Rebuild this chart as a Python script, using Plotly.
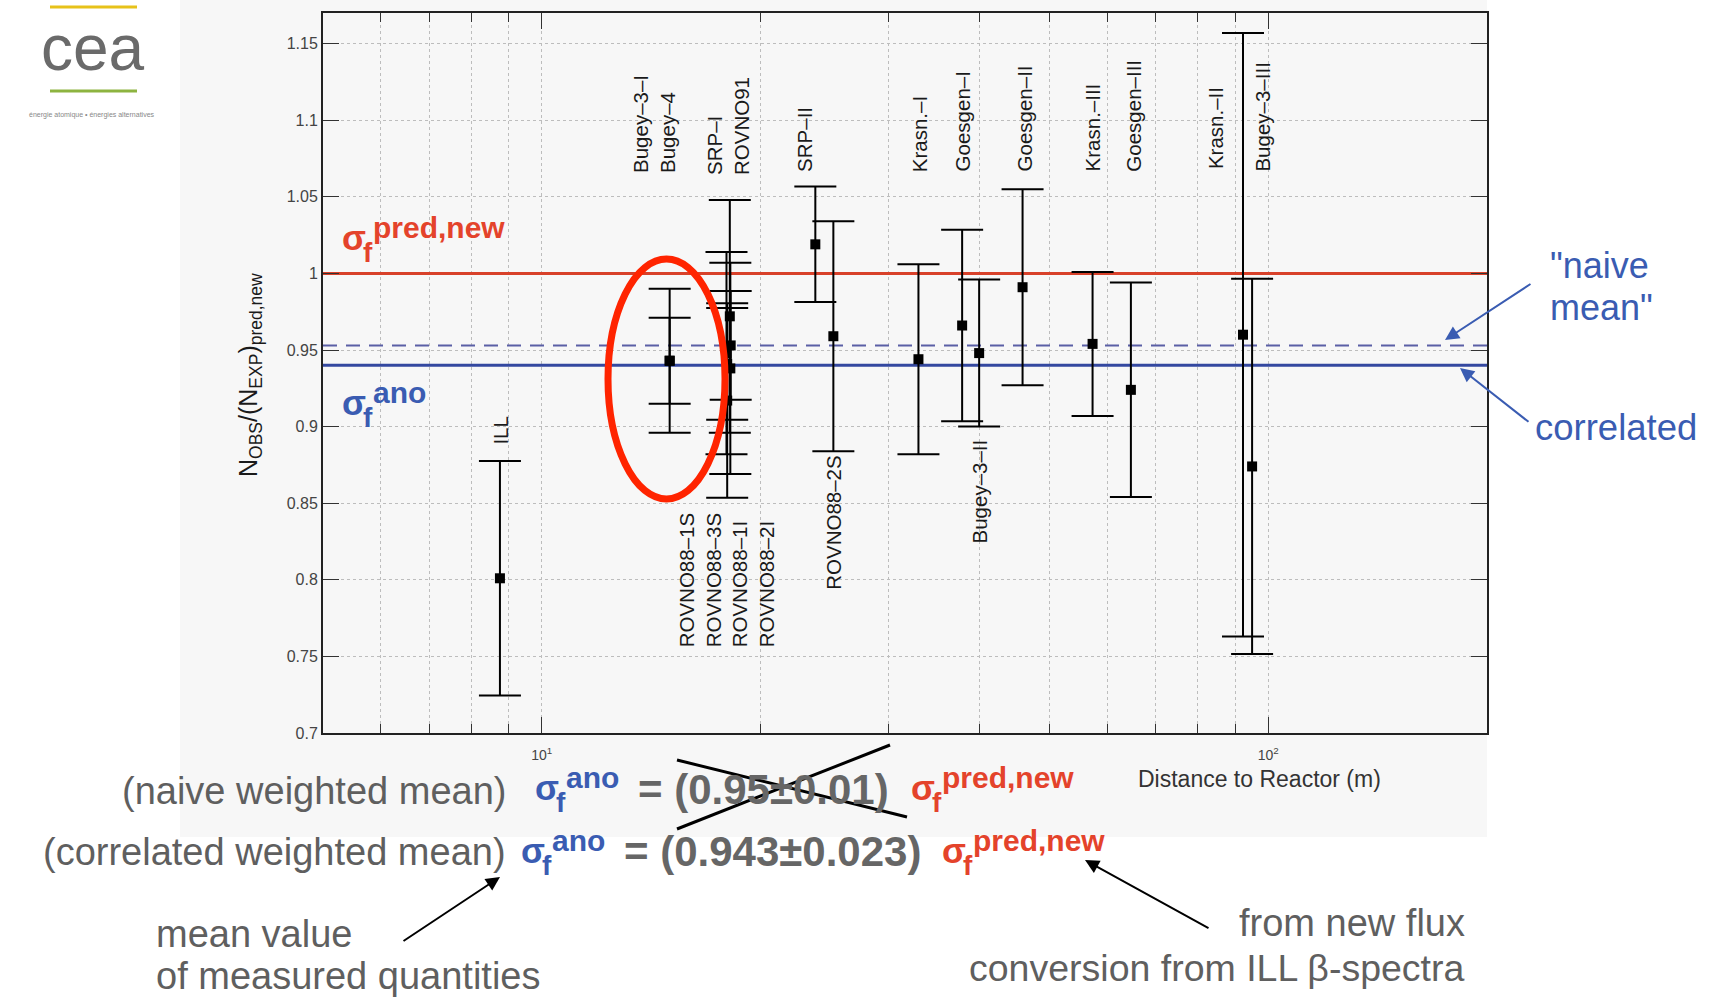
import math
import plotly.graph_objects as go

# ---------------- data ----------------
experiments = ["ILL", "Bugey-4", "ROVNO91", "Bugey-3-I", "Bugey-3-II", "Bugey-3-III",
               "Goesgen-I", "Goesgen-II", "Goesgen-III", "Krasn.-I", "Krasn.-II", "Krasn.-III",
               "SRP-I", "SRP-II", "ROVNO88-1I", "ROVNO88-2I", "ROVNO88-1S", "ROVNO88-2S", "ROVNO88-3S"]
distance_m = [8.76, 15.0, 18.0, 15.0, 40.0, 95.0,
              37.9, 45.9, 64.7, 33.0, 92.3, 57.3,
              18.2, 23.8, 18.0, 17.96, 18.15, 25.2, 18.18]
ratio = [0.801, 0.943, 0.941, 0.943, 0.948, 0.874,
         0.966, 0.991, 0.924, 0.944, 0.960, 0.954,
         0.953, 1.019, 0.917, 0.948, 0.972, 0.959, 0.938]
ratio_err = [0.0765, 0.028, 0.0365, 0.047, 0.048, 0.1225,
             0.0625, 0.064, 0.070, 0.062, 0.197, 0.047,
             0.0355, 0.0377, 0.0635, 0.066, 0.076, 0.075, 0.069]

mean_names = ["sigma pred,new", "naive mean", "correlated mean"]
mean_values = [1.0, 0.953, 0.940]

y_tick_values = [0.7, 0.75, 0.8, 0.85, 0.9, 0.95, 1.0, 1.05, 1.1, 1.15]
y_tick_labels = ["0.7", "0.75", "0.8", "0.85", "0.9", "0.95", "1", "1.05", "1.1", "1.15"]
x_tick_values = [10, 100]
x_tick_labels = ["10<sup>1</sup>", "10<sup>2</sup>"]
x_minor_values = [6, 7, 8, 9, 20, 30, 40, 50, 60, 70, 80, 90]

# experiment labels: text, distance (m) of label centre, ratio at label anchor, anchor side
label_texts = ["ILL", "Bugey–3–I<br>Bugey–4", "SRP–I<br>ROVNO91", "SRP–II", "Krasn.–I",
               "Goesgen–I", "Goesgen–II", "Krasn.–III", "Goesgen–III", "Krasn.–II", "Bugey–3–III",
               "ROVNO88–1S<br>ROVNO88–3S<br>ROVNO88–1I<br>ROVNO88–2I", "ROVNO88–2S", "Bugey–3–II"]
label_dist = [8.75, 14.3, 18.05, 23.0, 33.1, 37.95, 46.2, 57.3, 65.3, 84.8, 98.1, 17.97, 25.2, 40.0]
label_ratio = [0.887, 1.064, 1.063, 1.065, 1.065, 1.065, 1.065, 1.065, 1.065, 1.067, 1.065,
               0.8445, 0.8825, 0.893]
label_side = ["bottom"] * 11 + ["top"] * 3

# ---------------- layout geometry (pixels) ----------------
W, H = 1713, 999
L, R, T, B = 323, 1487, 13, 733
FONT = "Liberation Sans, Arial, Helvetica, sans-serif"
RED = "#e4432b"
BLUE = "#3a5cb2"
GRAY = "#5f5f5f"


def PX(x):
    return (x - L) / (R - L)


def PY(y):
    return (B - y) / (B - T)


annotations = []
shapes = []


def text(t, x, y, size, color, bold=False, xa="left", ya="middle", angle=0):
    annotations.append(dict(
        text=("<b>%s</b>" % t) if bold else t, x=PX(x), y=PY(y), xref="paper", yref="paper",
        showarrow=False, xanchor=xa, yanchor=ya, textangle=angle,
        font=dict(family=FONT, size=size, color=color)))


def sigma(x, baseline, sup, color, s=35):
    text("σ", x, baseline - 0.35 * s, s, color, bold=True)
    text("f", x + 21, baseline + 12 - 0.35 * 28, 28, color, bold=True)
    text(sup, x + 31, baseline - 12 - 0.35 * 30, 30, color, bold=True)


def arrow(x0, y0, x1, y1, color, width=2, head=2, hsize=1.4):
    annotations.append(dict(
        text="", x=PX(x1), y=PY(y1), xref="paper", yref="paper", showarrow=True,
        ax=x0 - x1, ay=y0 - y1, axref="pixel", ayref="pixel",
        arrowhead=head, arrowsize=hsize, arrowwidth=width, arrowcolor=color))


def line(x0, y0, x1, y1, color, width):
    shapes.append(dict(type="line", xref="paper", yref="paper", x0=PX(x0), y0=PY(y0),
                       x1=PX(x1), y1=PY(y1), line=dict(color=color, width=width), layer="above"))


fig = go.Figure()

# mean level lines
x_span = [5, 200]
fig.add_trace(go.Scatter(x=x_span, y=[mean_values[0]] * 2, mode="lines",
                         line=dict(color="#d8412a", width=3), hoverinfo="skip"))
fig.add_trace(go.Scatter(x=x_span, y=[mean_values[1]] * 2, mode="lines",
                         line=dict(color="#5a5fa5", width=2, dash="14px,9px"), hoverinfo="skip"))
fig.add_trace(go.Scatter(x=x_span, y=[mean_values[2]] * 2, mode="lines",
                         line=dict(color="#3448a0", width=3), hoverinfo="skip"))

# experiments
fig.add_trace(go.Scatter(
    x=distance_m, y=ratio, mode="markers", text=experiments,
    marker=dict(symbol="square", size=10, color="black"),
    error_y=dict(type="data", array=ratio_err, visible=True, color="black",
                 thickness=2, width=21)))

# experiment labels (data coordinates)
for t, d, r, side in zip(label_texts, label_dist, label_ratio, label_side):
    annotations.append(dict(
        text=t, x=math.log10(d), y=r, xref="x", yref="y", showarrow=False,
        textangle=-90, xanchor="center", yanchor=side, align="left",
        font=dict(family=FONT, size=20.5, color="#1a1a1a")))

# background panel of the picture
shapes.append(dict(type="rect", xref="paper", yref="paper", x0=PX(180), x1=PX(1487),
                   y0=PY(837), y1=PY(0), fillcolor="#f7f7f7", line=dict(width=0),
                   layer="below"))

# red ellipse
shapes.append(dict(type="circle", xref="paper", yref="paper", x0=PX(608), x1=PX(725),
                   y0=PY(499), y1=PY(259), line=dict(color="#ff2400", width=7),
                   layer="above"))

# y axis title
text("N<sub>OBS</sub>/(N<sub>EXP</sub>)<sub>pred,new</sub>", 250, 375, 25, "#1a1a1a",
     xa="center", ya="middle", angle=-90)

# x axis title
text("Distance to Reactor (m)", 1136, 779, 23, "#333333")

# in-plot sigma labels
sigma(340, 250, "pred,new", RED)
sigma(340, 415, "ano", BLUE)

# right side annotations
text('"naive', 1548, 265, 36, BLUE)
text('mean"', 1548, 307, 36, BLUE)
text("correlated", 1533, 428, 36.5, BLUE)
arrow(1532, 283, 1445, 340, BLUE)
arrow(1530, 423, 1460, 368, BLUE)

# formula lines
text("(naive weighted mean)", 508, 791, 38, GRAY, xa="right")
sigma(533, 800, "ano", BLUE)
text("= (0.95±0.01)", 636, 789, 42, "#666666", bold=True)
sigma(909, 800, "pred,new", RED)
line(677, 760, 907, 817, "black", 3)
line(677, 829, 890, 745, "black", 3)

text("(correlated weighted mean)", 508, 852, 38, GRAY, xa="right")
sigma(519, 863, "ano", BLUE)
text("= (0.943±0.023)", 622, 851, 42, "#666666", bold=True)
sigma(940, 863, "pred,new", RED)

text("mean value", 154, 934, 38, GRAY)
text("of measured quantities", 154, 976, 38, GRAY)
arrow(402, 942, 500, 877, "black")
text("from new flux", 1467, 923, 38, GRAY, xa="right")
text("conversion from ILL β-spectra", 1467, 968, 37.5, GRAY, xa="right")
arrow(1210, 929, 1085, 860, "black")

# logo
line(50, 7, 137, 7, "#e7c21a", 3)
line(50, 91, 137, 91, "#8db440", 3)
text("cea", 93, 48, 64, "#6a6a6a", xa="center")
text("énergie atomique • énergies alternatives", 92, 115, 7, "#888888", xa="center")

axis_common = dict(showline=True, linecolor="#222222", linewidth=2, mirror="allticks",
                   ticks="inside", tickcolor="#333333", tickwidth=1,
                   showgrid=True, gridcolor="#bdbdbd", gridwidth=1, griddash="dot",
                   zeroline=False)

fig.update_layout(
    width=W, height=H, autosize=False,
    margin=dict(l=L, r=W - R, t=T, b=H - B, pad=0),
    paper_bgcolor="white", plot_bgcolor="#f7f7f7",
    showlegend=False,
    font=dict(family=FONT, color="#333333"),
    xaxis=dict(type="log", range=[math.log10(5), math.log10(200)],
               tickmode="array", tickvals=x_tick_values, ticktext=x_tick_labels,
               ticklen=16, ticklabelstandoff=8,
               tickfont=dict(size=14, color="#444444"),
               minor=dict(tickmode="array", tickvals=x_minor_values, ticks="inside",
                          ticklen=9, tickcolor="#333333", showgrid=True,
                          gridcolor="#bdbdbd", griddash="dot", gridwidth=1),
               **axis_common),
    yaxis=dict(range=[0.7, 1.17], tickmode="array", tickvals=y_tick_values,
               ticktext=y_tick_labels, ticklen=16,
               tickfont=dict(size=16, color="#444444"),
               **axis_common),
    annotations=annotations,
    shapes=shapes,
)

fig.write_html("out.html")
